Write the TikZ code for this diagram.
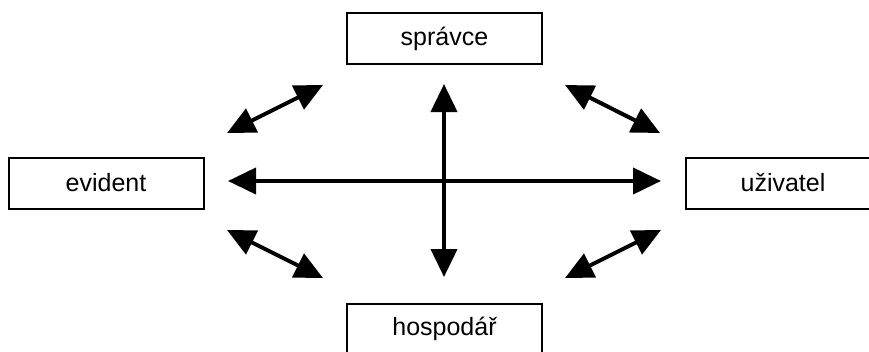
\documentclass[tikz,border=0pt]{standalone}
\usepackage{fontspec}
\setmainfont{Liberation Sans}
\usetikzlibrary{arrows.meta}
\begin{document}
\begin{tikzpicture}[x=1pt,y=-1pt,
  rolebox/.style={draw, line width=2pt, minimum width=195pt, minimum height=51pt, inner sep=0pt, font=\fontsize{25}{30}\selectfont},
  biarrow/.style={line width=4pt, {Triangle[length=28pt,width=26pt]}-{Triangle[length=28pt,width=26pt]}}]
\useasboundingbox (0,0) rectangle (869,351);
\node[rolebox] (spravce) at (444.5,38.5) {správce};
\node[rolebox] (evident) at (106,183) {evident};
\node[rolebox] (uzivatel) at (783,183) {uživatel};
\node[rolebox] (hospodar) at (444.5,329) {hospodář};
\coordinate (hL) at (228,181);
\coordinate (hR) at (661,181);
\coordinate (vT) at (444,84);
\coordinate (vB) at (444,277);
\coordinate (a1) at (227,133);
\coordinate (b1) at (323,85);
\coordinate (a2) at (565,85);
\coordinate (b2) at (660,133);
\coordinate (a3) at (227,230);
\coordinate (b3) at (323,278);
\coordinate (a4) at (565,278);
\coordinate (b4) at (661,230);
\draw[biarrow] (hL) -- (hR);
\draw[biarrow] (vT) -- (vB);
\draw[biarrow] (a1) -- (b1);
\draw[biarrow] (a2) -- (b2);
\draw[biarrow] (a3) -- (b3);
\draw[biarrow] (a4) -- (b4);
\end{tikzpicture}
\end{document}
